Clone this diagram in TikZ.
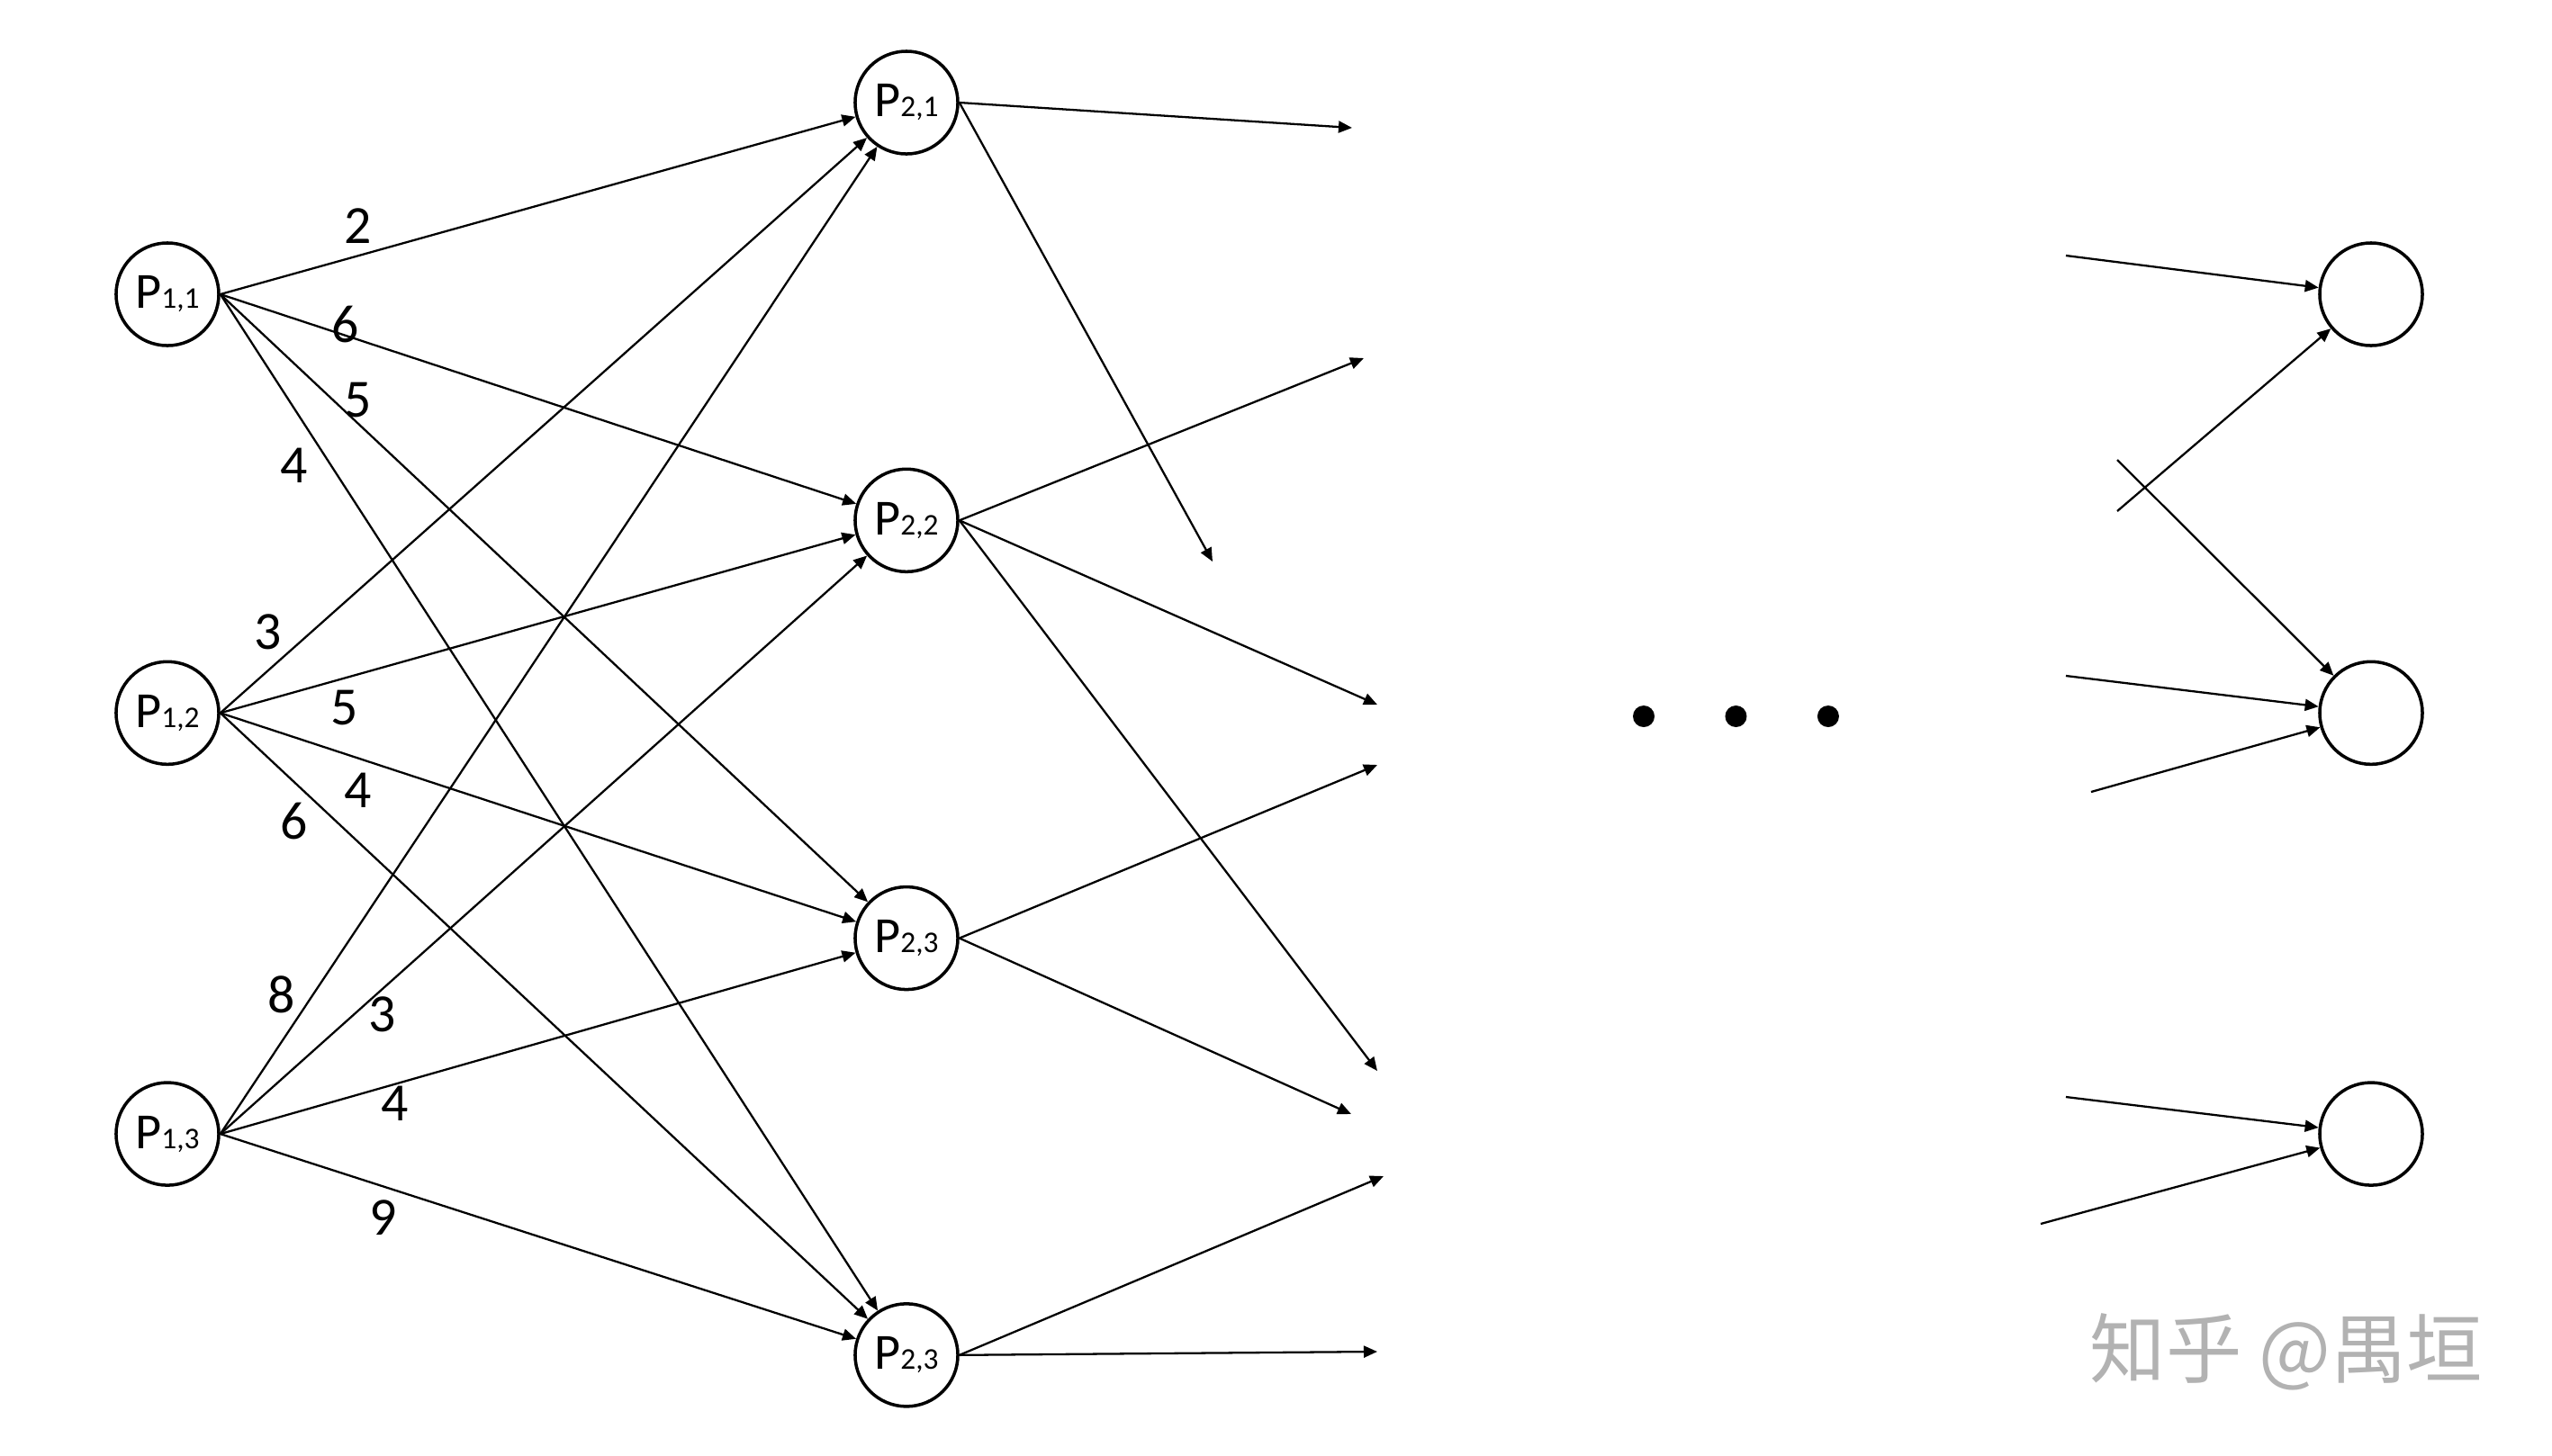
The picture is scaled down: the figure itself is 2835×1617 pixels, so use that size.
\documentclass[tikz,border=0pt]{standalone}
\usepackage{fontspec}
\setmainfont{Carlito}
\newfontfamily\cjkfont{Noto Sans CJK SC}
\usetikzlibrary{arrows.meta, positioning}
\newcommand{\pname}[1]{P{\fontsize{9.5}{10}\selectfont #1}}

\begin{document}
\begin{tikzpicture}[
    x=0.01cm, y=-0.01cm,
    state/.style={circle, draw, line width=1pt, minimum size=1.14cm, inner sep=0pt, font=\fontsize{16}{18}\selectfont},
    arrow/.style={-{Triangle[length=1.5mm, width=1.3mm]}, line width=0.65pt},
    wlbl/.style={font=\fontsize{17}{20}\selectfont, inner sep=0pt},
    dot/.style={circle, fill, minimum size=0.24cm, inner sep=0pt}
]
\useasboundingbox (0,0) rectangle (2835,1617);

% --- Coluna 1 ---
\node[state] (p11) at (186,327) {\pname{1,1}};
\node[state, below=3.475cm of p11] (p12) {\pname{1,2}};
\node[state, below=3.50cm of p12] (p13) {\pname{1,3}};

% --- Coluna 2 ---
\node[state] (p21) at (1007,114) {\pname{2,1}};
\node[state, below=3.465cm of p21] (p22) {\pname{2,2}};
\node[state, below=3.465cm of p22] (p23) {\pname{2,3}};
\node[state, below=3.455cm of p23] (p24) {\pname{2,3}};

% --- Ultima coluna ---
\node[state] (r1) at (2634,327) {};
\node[state, below=3.475cm of r1] (r2) {};
\node[state, below=3.50cm of r2] (r3) {};

% reticencias
\node[dot] (d1) at (1826,796) {};
\node[dot, right=0.77cm of d1] (d2) {};
\node[dot, right=0.77cm of d2] (d3) {};

% === SETAS coluna 1 -> coluna 2 ===
\foreach \s in {p11, p12, p13}
  \foreach \t in {p21, p22, p23, p24}
    \draw[arrow] (\s.east) -- (\t);

% pesos
\node[wlbl] (w11) at (398,251) {2};
\node[wlbl] (w12) at (384,361) {6};
\node[wlbl] (w13) at (398,445) {5};
\node[wlbl] (w14) at (327,517) {4};
\node[wlbl] (w21) at (298,702) {3};
\node[wlbl] (w22) at (383,787) {5};
\node[wlbl] (w23) at (398,878) {4};
\node[wlbl] (w24) at (327,913) {6};
\node[wlbl] (w31) at (313,1105) {8};
\node[wlbl] (w32) at (425,1127) {3};
\node[wlbl] (w33) at (439,1226) {4};
\node[wlbl] (w34) at (426,1353) {9};

% saidas soltas da coluna 2
\coordinate (o11) at (1502,142);
\coordinate (o12) at (1347,624);
\coordinate (o21) at (1515,398);
\coordinate (o22) at (1530,783);
\coordinate (o23) at (1530,1190);
\coordinate (o31) at (1530,850);
\coordinate (o32) at (1501,1238);
\coordinate (o41) at (1537,1307);
\coordinate (o42) at (1530,1502);

\draw[arrow] (p21.east) -- (o11);
\draw[arrow] (p21.east) -- (o12);
\draw[arrow] (p22.east) -- (o21);
\draw[arrow] (p22.east) -- (o22);
\draw[arrow] (p22.east) -- (o23);
\draw[arrow] (p23.east) -- (o31);
\draw[arrow] (p23.east) -- (o32);
\draw[arrow] (p24.east) -- (o41);
\draw[arrow] (p24.east) -- (o42);

% entradas soltas da ultima coluna
\coordinate (i11) at (2295,284);
\coordinate (i12) at (2352,568);
\coordinate (i21) at (2352,511);
\coordinate (i22) at (2295,751);
\coordinate (i23) at (2323,880);
\coordinate (i31) at (2295,1219);
\coordinate (i32) at (2267,1360);

\draw[arrow] (i11) -- (r1);
\draw[arrow] (i12) -- (r1);
\draw[arrow] (i21) -- (r2);
\draw[arrow] (i22) -- (r2);
\draw[arrow] (i23) -- (r2);
\draw[arrow] (i31) -- (r3);
\draw[arrow] (i32) -- (r3);

% marca d'agua
\node[font=\cjkfont\fontsize{24}{28}\selectfont, text=black!30, inner sep=0pt] (mark) at (2540,1502) {知乎 @禺垣};

\end{tikzpicture}
\end{document}
